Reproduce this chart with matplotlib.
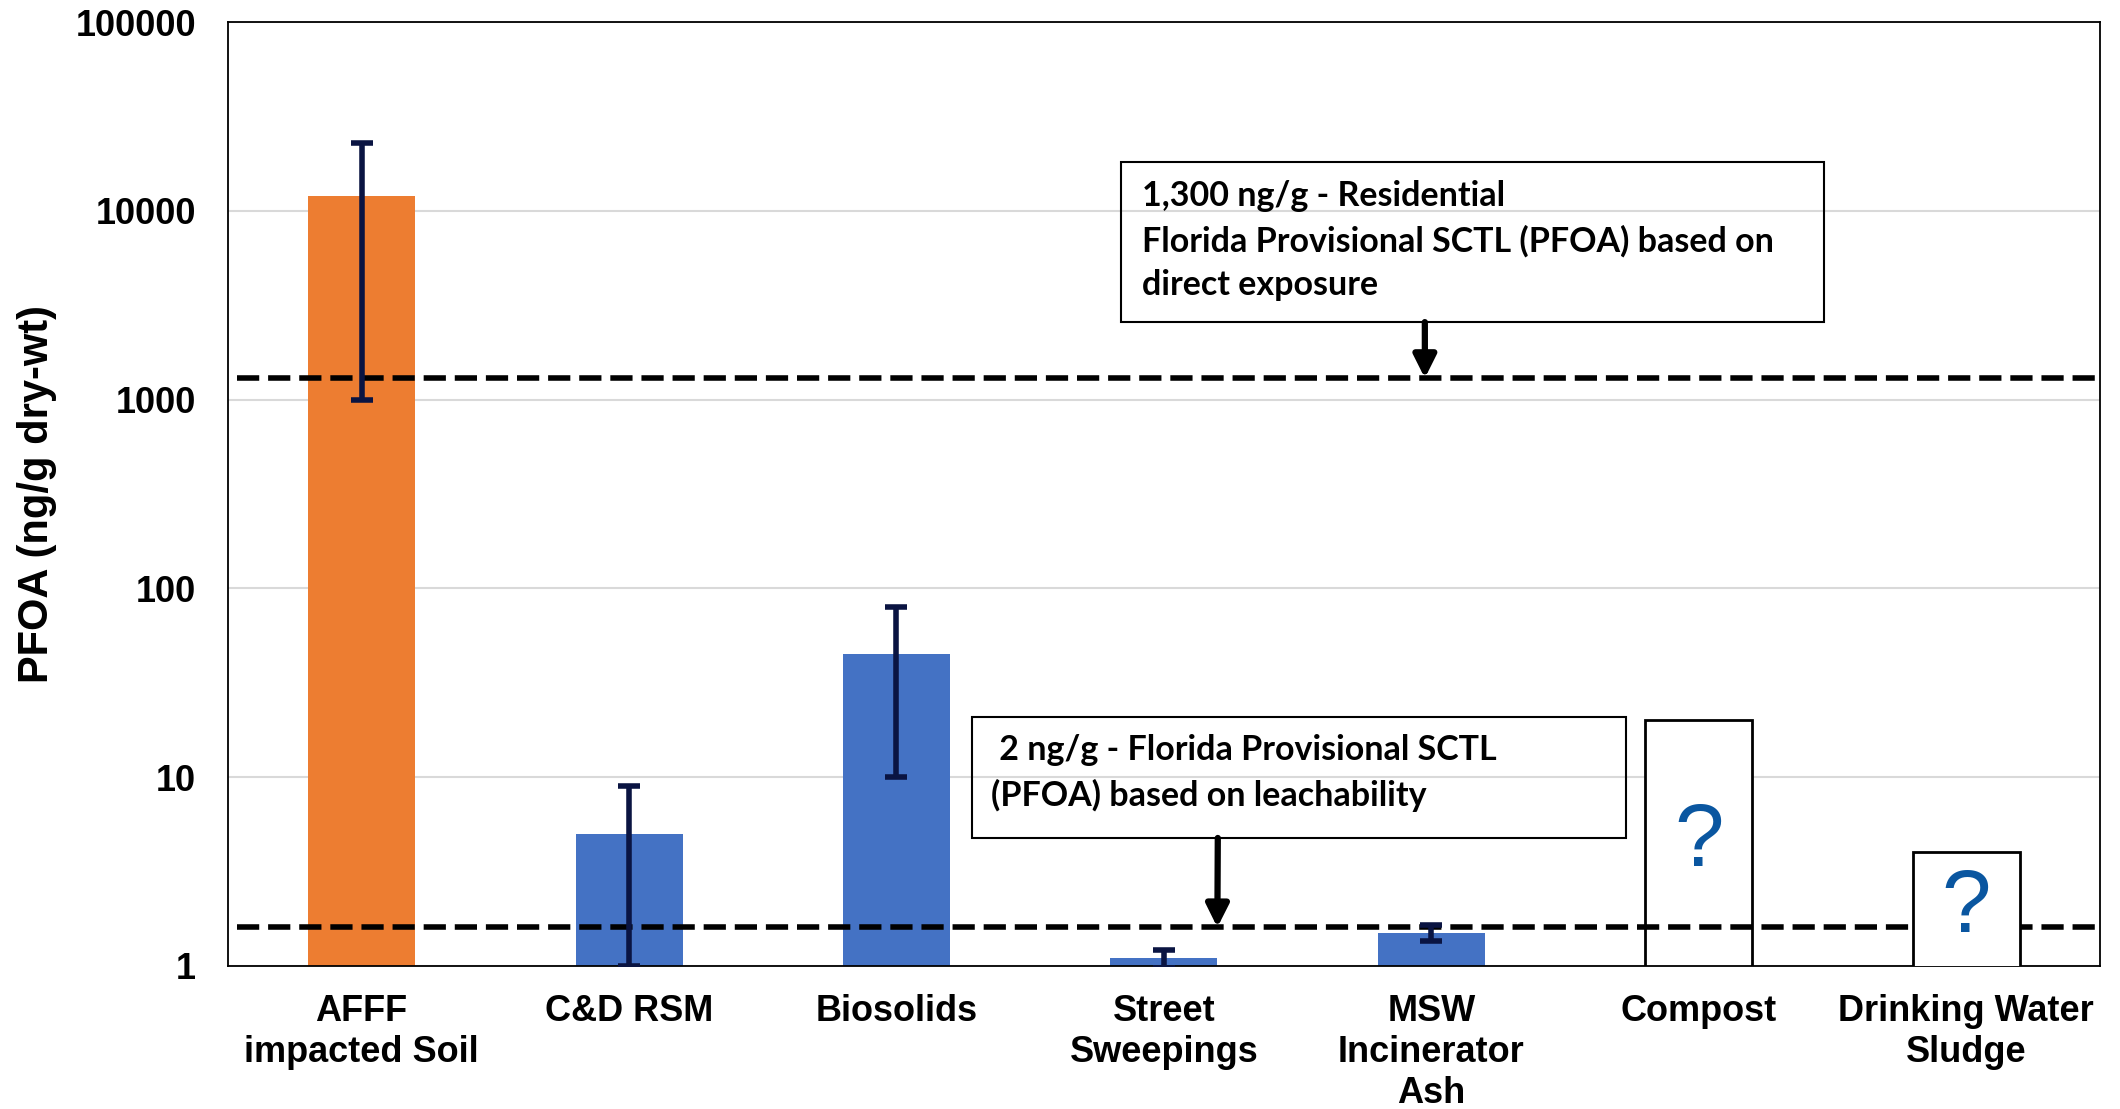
import matplotlib.pyplot as plt
from matplotlib.patches import Rectangle
from matplotlib.ticker import FixedLocator, NullLocator
import numpy as np

plt.rcParams['font.family'] = ['Liberation Sans', 'DejaVu Sans']

# data
categories = ['AFFF\nimpacted Soil', 'C&D RSM', 'Biosolids', 'Street\nSweepings',
              'MSW\nIncinerator\nAsh', 'Compost', 'Drinking Water\nSludge']
pfoa = [12000, 5, 45, 1.1, 1.5]
pfoa_err = [11000, 4, 35, 0.12, 0.15]
bar_colors = ['#ED7D31', '#4472C4', '#4472C4', '#4472C4', '#4472C4']

unknown_idx = [5, 6]
unknown_top = [20, 4]

sctl_direct = 1300    # residential, direct exposure
sctl_leach = 1.6      # where the "2 ng/g" leachability line sits in the figure

yticks = [1, 10, 100, 1000, 10000, 100000]

note_direct = ['1,300 ng/g - Residential',
               'Florida Provisional SCTL (PFOA) based on',
               'direct exposure']
note_leach = [' 2 ng/g - Florida Provisional SCTL',
              '(PFOA) based on leachability']

fig = plt.figure(figsize=(21.2, 11.09), dpi=100)
ax = fig.add_axes([0.1075, 0.129, 0.883, 0.851])

x = np.arange(len(categories))
ax.bar(x[:len(pfoa)], pfoa, width=0.4, color=bar_colors, zorder=2,
       yerr=pfoa_err, ecolor='#0a1442', capsize=8,
       error_kw=dict(elinewidth=4, capthick=4, zorder=5))

# empty boxes with question marks
box_z = [1.5, 4]
for i, top, z in zip(unknown_idx, unknown_top, box_z):
    ax.bar(i, top, width=0.4, color='white', edgecolor='black', linewidth=2, zorder=z)
    ax.text(i, np.sqrt(top), '?', color='#0a56a0', fontsize=64,
            ha='center', va='center', zorder=6)

ax.set_yscale('log')
ax.set_ylim(1, 100000)
ax.set_xlim(-0.5, len(categories) - 0.5)

ax.axhline(sctl_direct, xmin=0.005, xmax=1, color='black', lw=4,
           dashes=(4, 1.6), zorder=3)
ax.axhline(sctl_leach, xmin=0.005, xmax=1, color='black', lw=4,
           dashes=(4, 1.6), zorder=3)

ax.yaxis.set_major_locator(FixedLocator(yticks))
ax.yaxis.set_minor_locator(NullLocator())
ax.set_yticklabels([str(v) for v in yticks])
ax.set_xticks(x)
ax.set_xticklabels(categories, linespacing=1.22)
ax.tick_params(axis='both', length=0, labelsize=26)
ax.tick_params(axis='y', pad=23)
ax.tick_params(axis='x', pad=20)
for lab in ax.get_xticklabels() + ax.get_yticklabels():
    lab.set_fontweight('bold')

ax.yaxis.grid(True, color='#D9D9D9', lw=1.5)
ax.set_axisbelow(True)
for s in ax.spines.values():
    s.set_linewidth(1.3)

ax.set_ylabel('PFOA (ng/g dry-wt)', fontsize=30, fontweight='bold')
ax.yaxis.set_label_coords(-0.0913, 0.5)

# note boxes
note_font = dict(family=['Lato', 'DejaVu Sans'], fontweight='bold', fontsize=24.5)
ax.add_patch(Rectangle((0.477, 0.6822), 0.3756, 0.1695, transform=ax.transAxes,
                       fill=False, edgecolor='black', lw=1.5, zorder=5))
for line, yy in zip(note_direct, [0.8157, 0.7683, 0.7214]):
    ax.text(0.4883, yy, line, transform=ax.transAxes, va='center', ha='left', **note_font)

ax.add_patch(Rectangle((0.3974, 0.1356), 0.3494, 0.1282, transform=ax.transAxes,
                       fill=False, edgecolor='black', lw=1.5, zorder=5))
for line, yy in zip(note_leach, [0.2288, 0.1811]):
    ax.text(0.4076, yy, line, transform=ax.transAxes, va='center', ha='left', **note_font)

arrow = dict(arrowstyle='-|>', lw=4.5, mutation_scale=34, color='black', shrinkA=0, shrinkB=0)
ax.annotate('', xy=(3.976, sctl_direct), xycoords='data',
            xytext=(0.6394, 0.6822), textcoords='axes fraction',
            arrowprops=arrow, zorder=6)
ax.annotate('', xy=(3.20, sctl_leach), xycoords='data',
            xytext=(0.5288, 0.1356), textcoords='axes fraction',
            arrowprops=arrow, zorder=6)

fig.savefig('out.png', dpi=100)
